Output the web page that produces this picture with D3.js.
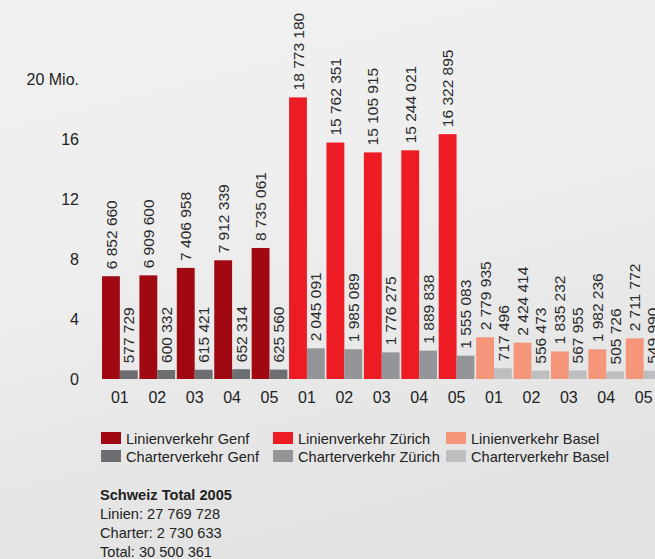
<!DOCTYPE html>
<html><head><meta charset="utf-8">
<script src="https://cdn.jsdelivr.net/npm/d3@7"></script>
<style>
html,body{margin:0;padding:0;background:#ebebeb;}
svg{display:block;font-family:"Liberation Sans",Arial,Helvetica,sans-serif;}
</style></head>
<body>
<svg id="c" width="655" height="559"></svg>
<script>
const years = ["01","02","03","04","05"];
const airports = ["Genf","Zürich","Basel"];
const linienGenf = [6852660, 6909600, 7406958, 7912339, 8735061];
const charterGenf = [577729, 600332, 615421, 652314, 625560];
const linienZuerich = [18773180, 15762351, 15105915, 15244021, 16322895];
const charterZuerich = [2045091, 1985089, 1776275, 1889838, 1555083];
const linienBasel = [2779935, 2424414, 1835232, 1982236, 2711772];
const charterBasel = [717496, 556473, 567955, 505726, 549990];
const yTicks = [0, 4, 8, 12, 16, 20];
const yTickLabels = ["0", "4", "8", "12", "16", "20 Mio."];
const legendLabels = ["Linienverkehr Genf","Charterverkehr Genf","Linienverkehr Zürich","Charterverkehr Zürich","Linienverkehr Basel","Charterverkehr Basel"];
const summaryTitle = "Schweiz Total 2005";
const summaryLines = ["Linien: 27 769 728","Charter: 2 730 633","Total: 30 500 361"];

const colors = {
  "Genf": ["#a00912", "#6d6e71"],
  "Zürich": ["#ed1c24", "#939598"],
  "Basel": ["#f5967a", "#bcbec0"]
};
const seriesData = {
  "Genf": [linienGenf, charterGenf],
  "Zürich": [linienZuerich, charterZuerich],
  "Basel": [linienBasel, charterBasel]
};

const periods = [];
airports.forEach(a => years.forEach((yr, i) => periods.push({key: a + yr, airport: a, year: yr, i})));

const svg = d3.select("#c");
const defs = svg.append("defs");
const g = defs.append("linearGradient").attr("id","bg").attr("x1",0).attr("y1",0).attr("x2",0.3).attr("y2",1);
g.append("stop").attr("offset","0").attr("stop-color","#f1f1f1");
g.append("stop").attr("offset","0.45").attr("stop-color","#eeeeee");
g.append("stop").attr("offset","1").attr("stop-color","#e3e3e3");
svg.append("rect").attr("width",655).attr("height",559).attr("fill","url(#bg)");

const y = d3.scaleLinear().domain([0, 20]).range([379, 79]);
const x0 = d3.scaleBand().domain(periods.map(p => p.key)).range([102, 102 + 15 * 37.3]).paddingInner(0.045).paddingOuter(0).align(0);
const x1 = d3.scaleBand().domain([0, 1]).range([0, x0.bandwidth()]);

const fmtLocale = d3.formatLocale({decimal: ".", thousands: " ", grouping: [3], currency: ["", ""]});
const fmt = fmtLocale.format(",d");

// y axis
const yAxis = d3.axisLeft(y).tickValues(yTicks).tickSize(0).tickPadding(0)
  .tickFormat((d, i) => yTickLabels[i]);
const ya = svg.append("g").attr("transform", "translate(79,0)").call(yAxis);
ya.select(".domain").remove();
ya.selectAll("text").attr("font-size", 16).attr("fill", "#222").attr("font-family", null);

// bars
const barData = [];
periods.forEach(p => {
  [0, 1].forEach(s => {
    barData.push({p, s, v: seriesData[p.airport][s][p.i], color: colors[p.airport][s]});
  });
});
const bars = svg.append("g");
bars.selectAll("rect").data(barData).join("rect")
  .attr("x", d => x0(d.p.key) + x1(d.s))
  .attr("width", x1.bandwidth())
  .attr("y", d => y(d.v / 1e6))
  .attr("height", d => y(0) - y(d.v / 1e6))
  .attr("fill", d => d.color);

// value labels
svg.append("g").selectAll("text").data(barData).join("text")
  .attr("transform", d => `translate(${x0(d.p.key) + x1(d.s) + x1.bandwidth() / 2},${y(d.v / 1e6) - 7}) rotate(-90)`)
  .attr("dy", "0.36em")
  .attr("font-size", 15.5)
  .attr("fill", "#2b2b2b")
  .text(d => fmt(d.v));

// x labels
const xAxis = d3.axisBottom(x0).tickSize(0).tickPadding(0).tickFormat(k => periods.find(p => p.key === k).year);
const xa = svg.append("g").attr("transform", "translate(0,392)").call(xAxis);
xa.select(".domain").remove();
xa.selectAll("text").attr("font-size", 16).attr("fill", "#222").attr("font-family", null);

// legend
const legCols = [101, 273, 446];
const legRows = [432, 450];
const leg = svg.append("g");
airports.forEach((a, ci) => {
  [0, 1].forEach(s => {
    const lg = leg.append("g").attr("transform", `translate(${legCols[ci]},${legRows[s]})`);
    lg.append("rect").attr("width", 20).attr("height", 12).attr("fill", colors[a][s]);
    lg.append("text").attr("x", 25).attr("y", 12).attr("font-size", 14.6).attr("fill", "#222").text(legendLabels[ci * 2 + s]);
  });
});

// summary
const sm = svg.append("g").attr("transform", "translate(100,0)");
sm.append("text").attr("y", 500).attr("font-size", 14.6).attr("font-weight", "bold").attr("fill", "#222").text(summaryTitle);
sm.selectAll("text.l").data(summaryLines).join("text").attr("class","l")
  .attr("y", (d, i) => 519 + i * 19).attr("font-size", 14.6).attr("fill", "#222").text(d => d);
</script>
</body></html>
